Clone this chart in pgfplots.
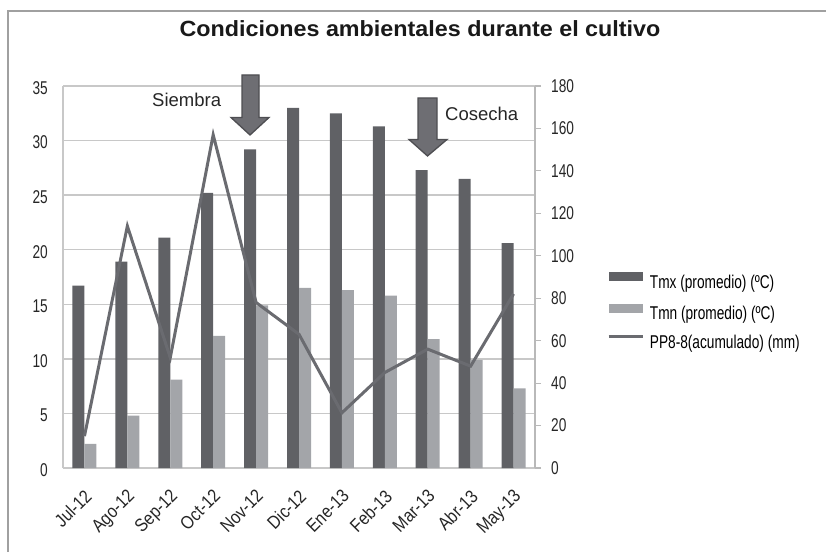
\documentclass[border=0pt]{standalone}
\usepackage{fontspec}
\setmainfont{Liberation Sans}
\newfontfamily\narrowfont[FakeStretch=0.74]{Liberation Sans}
\newfontfamily\xfont[FakeStretch=0.86]{Liberation Sans}
\newfontfamily\titlefont[FakeStretch=1.06]{Liberation Sans}
\usepackage{pgfplots}
\usepackage{pgfplotstable}
\pgfplotsset{compat=1.18}
\definecolor{darkbar}{RGB}{96,97,101}
\definecolor{lightbar}{RGB}{163,165,169}
\definecolor{ppline}{RGB}{106,107,112}
\definecolor{gridc}{RGB}{200,200,200}
\definecolor{raxis}{RGB}{185,185,185}
\definecolor{arrowfill}{RGB}{110,110,115}
\definecolor{arrowdraw}{RGB}{78,78,82}
\definecolor{framec}{RGB}{160,160,160}

\pgfplotstableread{
x tmx tmn pp
0 16.7 2.2 15
1 18.9 4.8 114
2 21.1 8.1 52
3 25.2 12.1 157
4 29.2 14.9 78
5 33.0 16.5 63
6 32.5 16.3 26
7 31.3 15.8 45
8 27.3 11.8 56
9 26.5 9.9 48
10 20.6 7.3 82
}\datatable

\begin{document}
\begin{tikzpicture}
\useasboundingbox (0pt,0pt) rectangle (826pt,552pt);
\draw[framec, line width=2pt] (8pt,0pt) -- (8pt,541pt) -- (827pt,541pt);

\begin{axis}[
  scale only axis, width=472pt, height=382pt,
  at={(63pt,84pt)}, anchor=south west,
  xmin=-0.5, xmax=10.5, ymin=0, ymax=35,
  ybar=0pt, bar width=12pt,
  axis x line*=bottom, axis y line*=left,
  axis line style={-, gridc, line width=1.5pt},
  ytick={0,5,...,35},
  xtick={0,...,10},
  xticklabels={Jul-12,Ago-12,Sep-12,Oct-12,Nov-12,Dic-12,Ene-13,Feb-13,Mar-13,Abr-13,May-13},
  major tick length=0pt,
  ymajorgrids, grid style={gridc, line width=1.5pt},
  tick label style={font=\narrowfont\fontsize{18.5}{20}\selectfont, text=black!85},
  /pgf/number format/assume math mode=true,
  yticklabel style={inner sep=0pt, xshift=-15pt, yshift=-2pt},
  xticklabel style={font=\xfont\fontsize{18.5}{20}\selectfont, xshift=-1pt, yshift=-20pt, rotate=45, anchor=north east, inner sep=0pt},
  legend style={at={(1.1525,0.411)}, anchor=west, draw=none, fill=none, inner sep=0pt,
    row sep=14pt, font=\narrowfont\fontsize{18.5}{20}\selectfont, nodes={inner sep=0pt}},
  legend cell align=left,
]
\addplot[fill=darkbar, draw=none,
  legend image code/.code={\fill[darkbar] (0pt,1pt) rectangle (34pt,10pt); \path (41pt,0pt);}]
  table[x=x, y=tmx]{\datatable};
\addlegendentry{Tmx (promedio) (ºC)}
\addplot[fill=lightbar, draw=none,
  legend image code/.code={\fill[lightbar] (0pt,1pt) rectangle (34pt,10pt); \path (41pt,0pt);}]
  table[x=x, y=tmn]{\datatable};
\addlegendentry{Tmn (promedio) (ºC)}
\addlegendimage{legend image code/.code={\draw[ppline, line width=3pt] (0pt,5.5pt) -- (34pt,5.5pt); \path (41pt,0pt);}}
\addlegendentry{PP8-8(acumulado) (mm)}
\end{axis}

\begin{axis}[
  scale only axis, width=472pt, height=382pt,
  at={(63pt,84pt)}, anchor=south west,
  xmin=-0.5, xmax=10.5, ymin=0, ymax=180,
  axis x line=none, axis y line*=right,
  axis line style={-, raxis, line width=1.5pt},
  ytick={0,20,...,180},
  tick align=outside, major tick length=6pt,
  tick style={raxis, line width=1.2pt},
  tick label style={font=\narrowfont\fontsize{18.5}{20}\selectfont, text=black!85},
  /pgf/number format/assume math mode=true,
  yticklabel style={inner sep=0pt, xshift=10pt},
]
\addplot[ppline, line width=3pt, mark=none] table[x=x, y=pp]{\datatable};
\end{axis}

% annotations
\filldraw[fill=arrowfill, draw=arrowdraw, line width=1.3pt]
  (242pt,477pt) -- (259pt,477pt) -- (259pt,434.5pt) -- (269pt,434.5pt) -- (250pt,417pt)
  -- (231pt,434.5pt) -- (242pt,434.5pt) -- cycle;
\filldraw[fill=arrowfill, draw=arrowdraw, line width=1.3pt]
  (418pt,454pt) -- (437pt,454pt) -- (437pt,412.5pt) -- (447pt,412.5pt) -- (427.5pt,396pt)
  -- (409pt,412.5pt) -- (418pt,412.5pt) -- cycle;
\node[anchor=base west, inner sep=0pt, font=\fontsize{18.5}{20}\selectfont, text=black!85] at (152pt,445.2pt) {Siembra};
\node[anchor=base west, inner sep=0pt, font=\fontsize{18.5}{20}\selectfont, text=black!85] at (445pt,431pt) {Cosecha};
\node[anchor=base, inner sep=0pt, font=\titlefont\bfseries\fontsize{22}{24}\selectfont, text=black!90] at (420pt,515.3pt) {Condiciones ambientales durante el cultivo};
\end{tikzpicture}
\end{document}
